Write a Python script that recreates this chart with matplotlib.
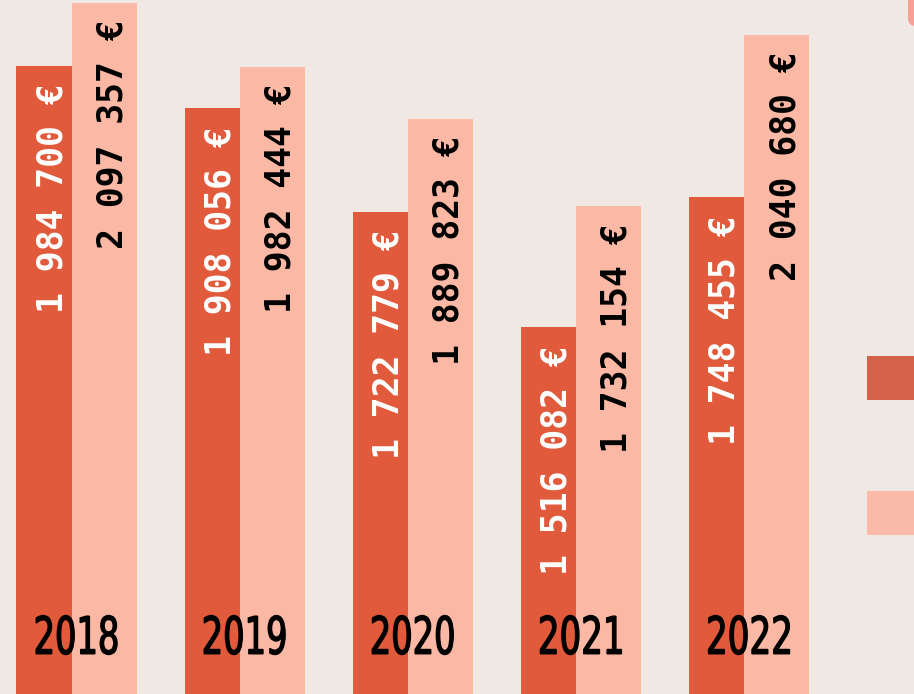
import numpy as np
import matplotlib.pyplot as plt
from matplotlib.textpath import TextPath
from matplotlib.font_manager import FontProperties
from matplotlib.patches import PathPatch, Rectangle, FancyBboxPatch
from matplotlib.transforms import Affine2D

# data
years = ['2018', '2019', '2020', '2021', '2022']
dark_vals = [1984700, 1908056, 1722779, 1516082, 1748455]
light_vals = [2097357, 1982444, 1889823, 1732154, 2040680]

bg = '#F0E8E2'
dark = '#E05A3B'
light = '#FBB8A5'

W, H = 914, 694
fig = plt.figure(figsize=(W / 100, H / 100), dpi=100, facecolor=bg)
ax = fig.add_axes([0, 0, 1, 1])
ax.set_facecolor(bg)

x = np.arange(len(years))
dw, lw = 0.33, 0.385
ax.bar(x, dark_vals, width=-dw, align='edge', color=dark)
ax.bar(x, light_vals, width=lw, align='edge', color=light)

x0, x1 = -0.428, 5.009
ax.set_xlim(x0, x1)
ax.set_ylim(857600, 2102600)
ax.axis('off')


def fmt(v):
    return f"{v:,} €".replace(',', ' ')


# value labels, rotated, hanging from the bar top
for i in x:
    ax.annotate(fmt(dark_vals[i]), (i - dw / 2, dark_vals[i]),
                xytext=(6, -13), textcoords='offset points',
                rotation=90, ha='center', va='top',
                family='DejaVu Sans Mono', weight='bold', fontsize=25, color='white')
    ax.annotate(fmt(light_vals[i]), (i + lw / 2, light_vals[i]),
                xytext=(6, -12), textcoords='offset points',
                rotation=90, ha='center', va='top',
                family='DejaVu Sans Mono', weight='bold', fontsize=25, color='black')

# overlay in pixel units for year labels and legend swatches
ov = fig.add_axes([0, 0, 1, 1], zorder=3)
ov.set_xlim(0, W)
ov.set_ylim(H, 0)
ov.axis('off')

fp = FontProperties(family='DejaVu Sans', weight='normal')
for i, yr in enumerate(years):
    tp = TextPath((0, 0), yr, size=100, prop=fp)
    bb = tp.get_extents()
    cx = (i - dw + (dw + lw) / 2 - x0) / (x1 - x0) * W
    tr = (Affine2D().translate(-bb.x0 - bb.width / 2, -bb.y0 - bb.height / 2)
          .scale(81 / bb.width, -39 / bb.height).translate(cx, 635))
    ov.add_patch(PathPatch(tr.transform_path(tp), facecolor='black',
                           edgecolor='black', lw=1.0))

# legend swatches (cut off at the right edge)
ov.add_patch(Rectangle((867, 356), 60, 44, color='#D4614A', lw=0))
ov.add_patch(Rectangle((867, 491), 60, 44, color='#FBB9A8', lw=0))
ov.add_patch(FancyBboxPatch((908, -30), 40, 56, boxstyle='round,pad=0,rounding_size=8',
                            color='#F7A096', lw=0))

fig.savefig('out.png', dpi=100, facecolor=bg)
